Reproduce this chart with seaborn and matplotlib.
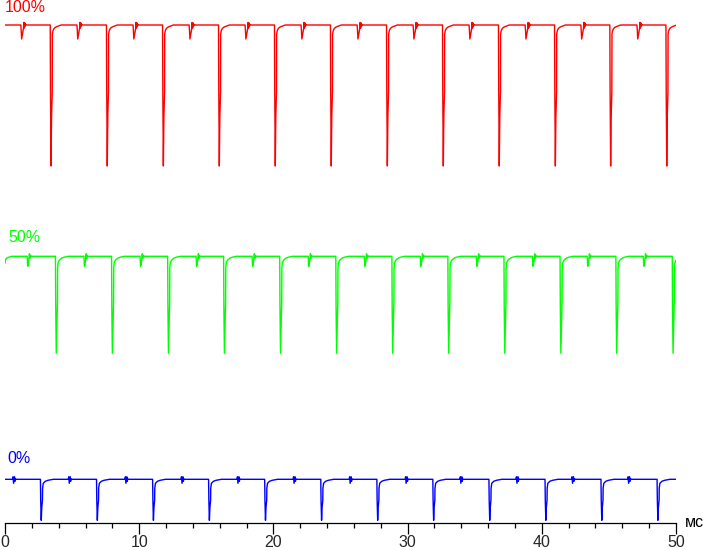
import numpy as np
import pandas as pd
import matplotlib
matplotlib.use("Agg")
import matplotlib.pyplot as plt
import seaborn as sns

# times (ms) of the deep dips and of the small glitches
red_dips = [3.43, 7.62, 11.80, 15.97, 20.14, 24.31, 28.49, 32.66, 36.83, 41.01, 45.13, 49.31]
red_glitches = [1.24, 5.42, 9.60, 13.78, 17.95, 22.12, 26.30, 30.47, 34.64, 38.82, 42.97, 47.15]
green_dips = [3.82, 8.00, 12.18, 16.35, 20.53, 24.71, 28.89, 33.06, 37.24, 41.42, 45.58, 49.78]
green_glitches = [1.71, 5.94, 10.12, 14.30, 18.47, 22.65, 26.83, 31.00, 35.18, 39.36, 43.44, 47.62]
blue_dips = [2.70, 6.88, 11.06, 15.23, 19.41, 23.59, 27.77, 31.94, 36.12, 40.30, 44.47, 48.65]
blue_glitches = [0.62, 4.77, 8.99, 13.17, 17.34, 21.52, 25.70, 29.87, 33.95, 38.13, 42.27, 46.45]

# steady levels of each trace (arbitrary units, axis line = 0)
red_base = 497.7
green_base = 266.4
blue_base = 43.4

# shape of one dip: time offset (ms) and level change
red_dip_dt = [-0.06, -0.04, 0.0, 0.04, 0.09, 0.10, 0.14, 0.20, 0.30, 0.45, 0.65, 0.75]
red_dip_dy = [0, -66.7, -141, -92, -66.7, -9, -6, -4, -2.5, -1.5, -0.5, 0]
green_dip_dt = [-0.06, -0.04, 0.0, 0.04, 0.09, 0.10, 0.13, 0.20, 0.30, 0.45, 0.70, 0.90]
green_dip_dy = [0, -51, -97, -72, -45, -12, -7, -4.5, -3, -1.5, -0.5, 0]
blue_dip_dt = [-0.06, -0.04, 0.0, 0.04, 0.09, 0.10, 0.15, 0.30, 0.50, 0.70, 0.90]
blue_dip_dy = [0, -21, -41, -28, -21, -9, -4, -2, -1, -0.5, 0]

# small glitch between dips
red_gl_dt = [-0.06, -0.03, 0.0, 0.05, 0.10, 0.14, 0.16, 0.20, 0.24, 0.27, 0.32, 0.40]
red_gl_dy = [0, -6, -14, -10, -6, -3, 2.5, -3, 2, -1, 0.5, 0]
green_gl_dt = [-0.06, -0.02, 0.03, 0.07, 0.11, 0.14, 0.18, 0.25]
green_gl_dy = [0, -10, -8, -3, 2.5, -2, 1, 0]
blue_gl_dt = [-0.05, -0.02, 0.02, 0.05, 0.09, 0.12, 0.16, 0.22]
blue_gl_dy = [0, 2.5, -4, -1, 2.5, -2, 0.5, 0]

# green starts while still recovering from a dip before 0 ms
green_start_dt = [0.0, 0.05, 0.15, 0.5]
green_start_dy = [-7, -3, -1.5, 0]


def build(base, dips, dip_dt, dip_dy, gls, gl_dt, gl_dy, start_dt=(0.0,), start_dy=(0,)):
    xs = list(start_dt)
    ys = [base + d for d in start_dy]
    events = [(t, dip_dt, dip_dy) for t in dips] + [(t, gl_dt, gl_dy) for t in gls]
    for t, dts, dys in sorted(events, key=lambda e: e[0]):
        xs += [t + d for d in dts]
        ys += [base + d for d in dys]
    xs.append(50.5)
    ys.append(base)
    return pd.DataFrame({"t": xs, "v": ys})


red = build(red_base, red_dips, red_dip_dt, red_dip_dy, red_glitches, red_gl_dt, red_gl_dy)
green = build(green_base, green_dips, green_dip_dt, green_dip_dy, green_glitches,
              green_gl_dt, green_gl_dy, green_start_dt, green_start_dy)
blue = build(blue_base, blue_dips, blue_dip_dt, blue_dip_dy, blue_glitches, blue_gl_dt, blue_gl_dy)

sns.set_style("white")
plt.rcParams["font.family"] = ["Liberation Sans", "DejaVu Sans"]

fig = plt.figure(figsize=(7.03, 5.5), dpi=100)
ax = fig.add_axes([5 / 703, 27.3 / 550, 671 / 703, 522.7 / 550])

for df, col in [(red, "#ff0000"), (green, "#00ff00"), (blue, "#0000ff")]:
    sns.lineplot(data=df, x="t", y="v", estimator=None, sort=False,
                 color=col, lw=1.0, ax=ax)

ax.set_xlim(0, 50)
ax.set_ylim(0, 522.7)
for s in ["left", "right", "top"]:
    ax.spines[s].set_visible(False)
ax.spines["bottom"].set_color("black")
ax.spines["bottom"].set_linewidth(0.9)
ax.set_yticks([])
ax.set_xticks([0, 10, 20, 30, 40, 50])
ax.set_xticks(np.arange(0, 51, 2), minor=True)
ax.tick_params(axis="x", which="both", bottom=True, top=False)
ax.tick_params(axis="x", which="major", length=8.2, width=0.9, color="black",
               labelsize=11.5, pad=0.5, direction="out")
ax.tick_params(axis="x", which="minor", length=3.5, width=0.9, color="black",
               direction="out")
ax.set_xlabel("")
ax.set_ylabel("")
ax.patch.set_alpha(0)

fig.text(4.5 / 703, 1 - 12 / 550, "100%", color="#ff0000", fontsize=11.5, va="baseline")
fig.text(8 / 703, 1 - 242 / 550, "50%", color="#00ff00", fontsize=11.5, va="baseline")
fig.text(7 / 703, 1 - 462.7 / 550, "0%", color="#0000ff", fontsize=11.5, va="baseline")
fig.text(685 / 703, 1 - 527 / 550, "мс", color="black", fontsize=11.5, va="baseline")

fig.savefig("out.png", dpi=100)
